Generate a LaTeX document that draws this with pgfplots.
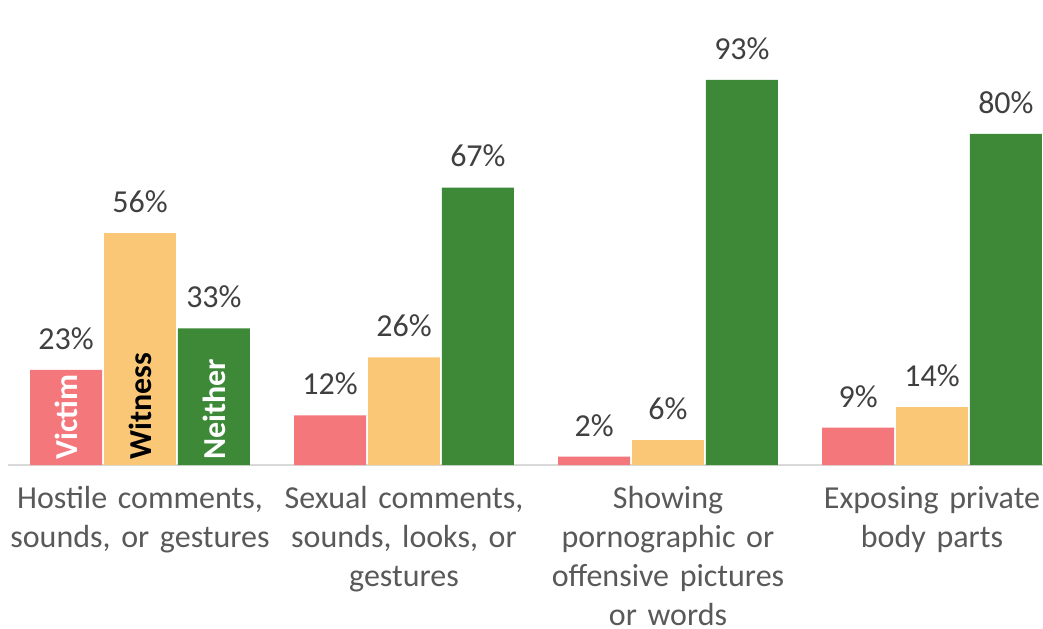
\documentclass[border=0pt]{standalone}
\usepackage{pgfplots}
\pgfplotsset{compat=1.18}
\usepackage{fontspec}
\setmainfont{Carlito}
\definecolor{cVic}{RGB}{244,119,124}
\definecolor{cWit}{RGB}{250,199,118}
\definecolor{cNei}{RGB}{61,137,56}
\definecolor{tickgray}{RGB}{89,89,89}
\definecolor{valgray}{RGB}{64,64,64}
\definecolor{axgray}{RGB}{217,217,217}
\begin{document}
\begin{tikzpicture}
\begin{axis}[
  name=ax,
  scale only axis,
  width=517.5pt, height=232.5pt,
  xmin=-0.5, xmax=3.4205,
  ymin=0, ymax=112.3,
  /pgf/number format/assume math mode=true,
  axis y line=none,
  axis x line*=bottom,
  x axis line style={-, draw=axgray, line width=1pt},
  xtick={0,1,2,3},
  xticklabels={{Hostile comments,\\sounds, or gestures},{Sexual comments,\\sounds, looks, or\\gestures},{Showing\\pornographic or\\offensive pictures\\or words},{Exposing private\\body parts}},
  major tick length=0pt,
  xticklabel style={anchor=north, inner sep=0pt, yshift=-10.5pt, text width=135pt, align=center, font=\fontsize{16}{19.5}\selectfont, text=tickgray},
  ybar, bar width=0.2727,
  nodes near coords={\pgfmathprintnumber{\pgfplotspointmeta}\%},
  every node near coord/.append style={font=\fontsize{16}{19.5}\selectfont, text=valgray, anchor=south, inner sep=0pt, yshift=10pt},
  clip=true,
]
\addplot[fill=cVic, draw=none, bar shift=-0.28] coordinates {(0,23) (1,12) (2,2) (3,9)};
\addplot[fill=cWit, draw=none, bar shift=0] coordinates {(0,56) (1,26) (2,6) (3,14)};
\addplot[fill=cNei, draw=none, bar shift=0.28] coordinates {(0,33) (1,67) (2,93) (3,80)};
\node[rotate=90, anchor=west, inner sep=2.5pt, text=white, font=\fontsize{16}{19.5}\selectfont\bfseries] at (axis cs:-0.28,0) {Victim};
\node[rotate=90, anchor=west, inner sep=2.5pt, text=black, font=\fontsize{16}{19.5}\selectfont\bfseries] at (axis cs:0,0) {Witness};
\node[rotate=90, anchor=west, inner sep=2.5pt, text=white, font=\fontsize{16}{19.5}\selectfont\bfseries] at (axis cs:0.28,0) {Neither};
\end{axis}
\pgfresetboundingbox
\path[use as bounding box] ([xshift=-4pt,yshift=-81.5pt]ax.south west) rectangle (ax.north east);
\end{tikzpicture}
\end{document}
